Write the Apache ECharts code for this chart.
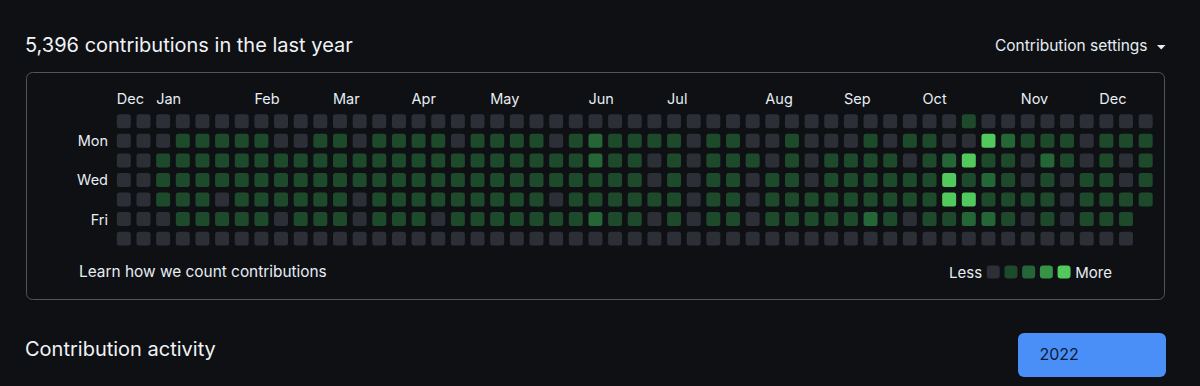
<!DOCTYPE html>
<html>
<head>
<meta charset="utf-8">
<script src="https://cdn.jsdelivr.net/npm/echarts@6/dist/echarts.min.js"></script>
<style>
  html, body { margin: 0; padding: 0; background: #0e1014; }
  #chart { width: 1200px; height: 386px; }
</style>
</head>
<body>
<div id="chart"></div>
<script>
// ---- data (contribution level 0..4 per week column; null = no day) ----
const weekdays = ['Sun', 'Mon', 'Tue', 'Wed', 'Thu', 'Fri', 'Sat'];
const shownWeekdays = ['Mon', 'Wed', 'Fri'];
const monthNames = ['Dec', 'Jan', 'Feb', 'Mar', 'Apr', 'May', 'Jun', 'Jul', 'Aug', 'Sep', 'Oct', 'Nov', 'Dec'];
const monthStartWeeks = [0, 2, 7, 11, 15, 19, 24, 28, 33, 37, 41, 46, 50];
const weekCount = 53;

const sun = [0,0,0,0,0,0,0,0,0,0, 0,0,0,0,0,0,0,0,0,0, 0,0,0,0,0,0,0,0,0,0, 0,0,0,0,0,0,0,0,0,0, 0,0,0,1,0,0,0,0,0,0, 0,0,0];
const mon = [0,0,0,1,1,1,1,1,0,0, 1,1,0,1,1,1,1,0,1,1, 1,1,0,1,2,1,1,1,1,0, 1,1,0,0,1,0,0,0,1,0, 1,1,0,0,4,2,1,1,1,0, 1,1,1];
const tue = [0,0,1,1,1,1,1,1,1,1, 1,1,1,1,1,1,1,1,1,1, 1,1,1,1,2,1,1,0,1,0, 1,1,1,0,1,0,1,1,1,1, 0,1,2,4,1,1,0,2,1,0, 1,0,1];
const wed = [0,0,1,1,1,1,1,1,1,1, 1,1,1,1,1,1,1,1,1,1, 1,1,1,1,1,1,1,0,1,0, 1,1,0,1,1,0,1,1,1,1, 1,1,4,1,2,1,0,1,0,1, 1,0,1];
const thu = [0,0,1,1,1,0,1,1,1,1, 1,1,0,1,1,1,1,1,1,1, 1,1,0,1,1,1,1,1,1,0, 1,1,0,1,1,1,1,1,1,1, 1,1,4,4,1,1,1,1,0,1, 1,1,1];
const fri = [0,0,0,1,1,1,1,1,0,1, 1,1,0,1,1,1,0,1,1,1, 1,1,1,1,2,1,1,0,1,0, 1,1,0,1,1,1,1,1,2,1, 0,1,1,2,2,1,0,1,0,1, 1,1,null];
const sat = [0,0,0,0,0,0,0,0,0,0, 0,0,0,0,0,0,0,0,0,0, 0,0,0,0,0,0,0,0,0,0, 0,0,0,0,0,0,0,0,0,0, 0,0,0,0,0,0,0,0,0,0, 0,0,null];

const levels = [0, 1, 2, 3, 4];
const levelColors = ['#2c2f36', '#1e4a2c', '#246636', '#359445', '#52c95d'];

// ---- build ----
const dayRows = [sun, mon, tue, wed, thu, fri, sat];
const cells = [];
dayRows.forEach((row, d) => {
  row.forEach((v, w) => { if (v !== null) cells.push([w, d, v]); });
});
const weekCats = Array.from({ length: weekCount }, (_, i) => String(i));
const monthRow = weekCats.map((_, i) => {
  const k = monthStartWeeks.indexOf(i);
  return k >= 0 ? monthNames[k] : '';
});

const FONT = 'Inter, "Noto Sans", "Liberation Sans", sans-serif';
const TXT = '#e6edf3';

const chart = echarts.init(document.getElementById('chart'), null, { renderer: 'svg' });
const gridLeft = 114, gridRight = 44.5, gridTop = 111.5, gridBottom = 137.6;

chart.setOption({
  backgroundColor: '#0e1014',
  animation: false,
  textStyle: { fontFamily: FONT },
  grid: [
    { left: gridLeft, right: gridRight, top: gridTop, bottom: gridBottom },
    { left: gridLeft - 7, right: gridRight + 7, top: gridTop, bottom: gridBottom }
  ],
  xAxis: [
    { type: 'category', data: weekCats, gridIndex: 0, show: false },
    {
      type: 'category', data: monthRow, gridIndex: 1, position: 'top',
      axisLine: { show: false }, axisTick: { show: false }, splitLine: { show: false },
      axisLabel: { interval: 0, align: 'left', margin: 6, color: TXT, fontSize: 14.5, fontFamily: FONT }
    }
  ],
  yAxis: [
    {
      type: 'category', data: weekdays, inverse: true, gridIndex: 0,
      axisLine: { show: false }, axisTick: { show: false }, splitLine: { show: false },
      axisLabel: {
        interval: 0, margin: 6, color: TXT, fontSize: 14.5, fontFamily: FONT,
        formatter: (v) => shownWeekdays.indexOf(v) >= 0 ? v : ''
      }
    },
    { type: 'value', gridIndex: 1, show: false }
  ],
  visualMap: {
    type: 'piecewise',
    seriesIndex: 0,
    dimension: 2,
    orient: 'horizontal',
    left: 949,
    top: 264.5,
    padding: 0,
    itemWidth: 13,
    itemHeight: 13,
    itemGap: 4.7,
    textGap: 5,
    itemSymbol: 'roundRect',
    selectedMode: false,
    hoverLink: false,
    text: ['More', 'Less'],
    textStyle: { color: TXT, fontSize: 15, fontFamily: FONT },
    pieces: levels.map((l, i) => ({ value: l, color: levelColors[i] }))
  },
  series: [{
    type: 'custom',
    xAxisIndex: 0,
    yAxisIndex: 0,
    encode: { x: 0, y: 1 },
    data: cells,
    renderItem: function (params, api) {
      const p = api.coord([api.value(0), api.value(1)]);
      const band = api.size([1, 1]);
      const s = Math.min(band[0], band[1]) * 0.715;
      return {
        type: 'rect',
        shape: { x: p[0] - s / 2, y: p[1] - s / 2, width: s, height: s, r: 2.5 },
        style: { fill: api.visual('color') }
      };
    }
  }],
  graphic: [
    { type: 'text', left: 25, top: 35, style: { text: '5,396 contributions in the last year', font: '400 20px ' + FONT, fill: '#f0f3f6' } },
    { type: 'text', left: 995, top: 37, style: { text: 'Contribution settings', font: '400 15.5px ' + FONT, fill: TXT } },
    { type: 'polygon', shape: { points: [[1157, 45], [1165.5, 45], [1161.25, 49.5]] }, style: { fill: TXT } },
    { type: 'rect', shape: { x: 26.5, y: 72.5, width: 1138, height: 227, r: 6 }, style: { fill: 'none', stroke: '#50545b', lineWidth: 1 }, z: -1 },
    { type: 'text', left: 79, top: 264, style: { text: 'Learn how we count contributions', font: '400 15.4px ' + FONT, fill: TXT } },
    { type: 'text', left: 25, top: 338.5, style: { text: 'Contribution activity', font: '400 20px ' + FONT, fill: '#f0f3f6' } },
    { type: 'rect', shape: { x: 1018, y: 333, width: 148, height: 44, r: 6 }, style: { fill: '#4a8ff7' } },
    { type: 'text', left: 1039.5, top: 346, style: { text: '2022', font: '400 16px ' + FONT, fill: '#0d1b34' } }
  ]
});
</script>
</body>
</html>
